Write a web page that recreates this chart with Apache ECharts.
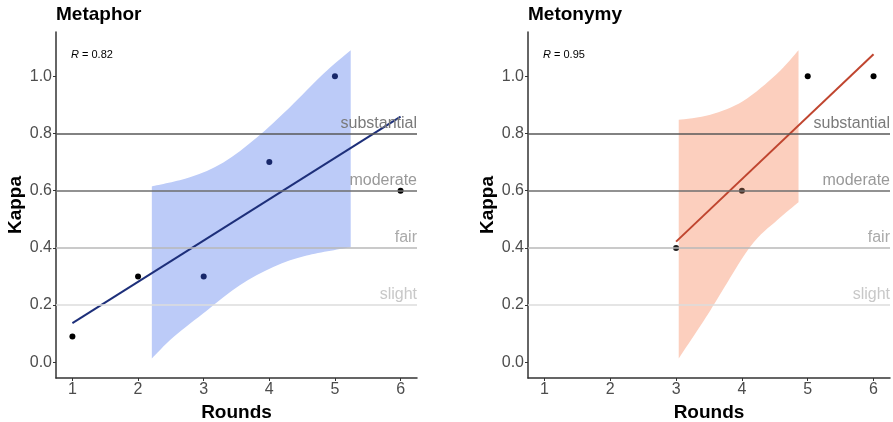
<!DOCTYPE html>
<html>
<head>
<meta charset="utf-8">
<script src="https://cdn.jsdelivr.net/npm/echarts@6/dist/echarts.min.js"></script>
<style>
html,body{margin:0;padding:0;background:#fff;}
#c{width:893px;height:422px;}
</style>
</head>
<body>
<div id="c"></div>
<script>
// ---- data ----
const xTicks = [1, 2, 3, 4, 5, 6];
const yTicks = [0, 0.2, 0.4, 0.6, 0.8, 1.0];
const panelTitles = ['Metaphor', 'Metonymy'];
const rValues = ['0.82', '0.95'];

const metaphorRounds = [1, 2, 3, 4, 5, 6];
const metaphorKappa = [0.09, 0.30, 0.30, 0.70, 1.00, 0.60];
const metaphorFit = [[1, 0.137], [6, 0.859]];
const metaphorBandUpper = [[2.21, 0.615], [2.79, 0.647], [3.30, 0.699], [3.81, 0.786], [4.31, 0.891], [4.82, 1.008], [5.24, 1.091]];
const metaphorBandLower = [[2.21, 0.013], [2.54, 0.088], [3.05, 0.181], [3.55, 0.269], [4.06, 0.333], [4.57, 0.373], [5.24, 0.402]];

const metonymyRounds = [3, 4, 5, 6];
const metonymyKappa = [0.40, 0.60, 1.00, 1.00];
const metonymyFit = [[3, 0.422], [6, 1.077]];
const metonymyBandUpper = [[3.04, 0.848], [3.52, 0.866], [4.02, 0.914], [4.53, 1.008], [4.86, 1.091]];
const metonymyBandLower = [[3.04, 0.013], [3.52, 0.181], [4.12, 0.402], [4.53, 0.496], [4.86, 0.560]];

const refLevels = [0.8, 0.6, 0.4, 0.2];
const refNames = ['substantial', 'moderate', 'fair', 'slight'];

// ---- styles ----
const FONT = '"Liberation Sans", Arial, sans-serif';
const refLineColors = ['#585858', '#6e6e6e', '#b8b8b8', '#dddddd'];
const refLabelColors = ['#7a7a7a', '#999999', '#aaaaaa', '#c8c8c8'];
const metaphorPointColors = ['#000000', '#000000', '#17276a', '#17276a', '#17276a', '#000000'];
const metonymyPointColors = ['#1e1e1e', '#4e3328', '#000000', '#000000'];

const chart = echarts.init(document.getElementById('c'), null, {renderer: 'canvas'});

const gridsPx = [{left: 56, top: 32, width: 361, height: 346}, {left: 528, top: 32, width: 362, height: 346}];

function xAxisCfg(i) {
  return {
    type: 'value', gridIndex: i, min: 0.75, max: 6.25,
    name: 'Rounds', nameLocation: 'middle', nameGap: 24,
    nameTextStyle: {fontFamily: FONT, fontSize: 19, fontWeight: 'bold', color: '#000'},
    axisLine: {show: true, onZero: false, lineStyle: {color: '#333', width: 1.5}},
    axisTick: {show: true, length: 3, customValues: xTicks, lineStyle: {color: '#333', width: 1}},
    axisLabel: {customValues: xTicks, margin: 4, fontFamily: FONT, fontSize: 16, color: '#4d4d4d'},
    splitLine: {show: false}
  };
}
function yAxisCfg(i) {
  return {
    type: 'value', gridIndex: i, min: -0.055, max: 1.155,
    name: 'Kappa', nameLocation: 'middle', nameGap: 31,
    nameTextStyle: {fontFamily: FONT, fontSize: 19, fontWeight: 'bold', color: '#000'},
    axisLine: {show: true, onZero: false, lineStyle: {color: '#333', width: 1.5}},
    axisTick: {show: true, length: 3, customValues: yTicks, lineStyle: {color: '#333', width: 1}},
    axisLabel: {customValues: yTicks, margin: 4, fontFamily: FONT, fontSize: 16, color: '#4d4d4d',
      formatter: v => Number(v).toFixed(1)},
    splitLine: {show: false}
  };
}

// smooth (Catmull-Rom) path through pixel points
function curvePath(px, moveFirst) {
  let d = (moveFirst ? 'M' : 'L') + px[0][0] + ' ' + px[0][1];
  for (let k = 0; k < px.length - 1; k++) {
    const p0 = px[Math.max(k - 1, 0)], p1 = px[k], p2 = px[k + 1], p3 = px[Math.min(k + 2, px.length - 1)];
    const c1 = [p1[0] + (p2[0] - p0[0]) / 6, p1[1] + (p2[1] - p0[1]) / 6];
    const c2 = [p2[0] - (p3[0] - p1[0]) / 6, p2[1] - (p3[1] - p1[1]) / 6];
    d += ' C' + c1[0] + ' ' + c1[1] + ' ' + c2[0] + ' ' + c2[1] + ' ' + p2[0] + ' ' + p2[1];
  }
  return d;
}

function bandSeries(i, upper, lower, color) {
  return {
    type: 'custom', xAxisIndex: i, yAxisIndex: i, z: 1, silent: true,
    data: [0],
    renderItem: function (params, api) {
      const up = upper.map(p => api.coord(p));
      const lo = lower.slice().reverse().map(p => api.coord(p));
      const d = curvePath(up, true) + ' ' + curvePath(lo, false) + ' Z';
      return {
        type: 'path',
        shape: {pathData: d},
        style: {fill: color}
      };
    }
  };
}

function refSeries(i) {
  return {
    type: 'line', xAxisIndex: i, yAxisIndex: i, z: 2, data: [], silent: true,
    markLine: {
      silent: true, symbol: ['none', 'none'], animation: false,
      data: refLevels.map((v, k) => ({
        yAxis: v, name: refNames[k],
        lineStyle: {color: refLineColors[k], width: 1.5, type: 'solid'},
        label: {show: true, position: 'insideEndTop', formatter: refNames[k], distance: [0, 2],
          fontFamily: FONT, fontSize: 16, color: refLabelColors[k]}
      }))
    }
  };
}

function fitSeries(i, data, color) {
  return {
    type: 'line', xAxisIndex: i, yAxisIndex: i, z: 3, data: data, symbol: 'none',
    lineStyle: {color: color, width: 2}, silent: true, animation: false
  };
}

function pointSeries(i, xs, ys, colors) {
  return {
    type: 'scatter', xAxisIndex: i, yAxisIndex: i, z: 4, symbolSize: 6, silent: true,
    data: xs.map((x, k) => ({value: [x, ys[k]], itemStyle: {color: colors[k], opacity: 1}}))
  };
}

const option = {
  animation: false,
  backgroundColor: '#ffffff',
  title: [
    {text: panelTitles[0], left: 56, top: 5, padding: 0, textStyle: {fontFamily: FONT, fontSize: 19, fontWeight: 'bold', color: '#000'}},
    {text: panelTitles[1], left: 528, top: 5, padding: 0, textStyle: {fontFamily: FONT, fontSize: 19, fontWeight: 'bold', color: '#000'}},
    {text: '{i|R} = ' + rValues[0], left: 71, top: 49, padding: 0,
      textStyle: {fontFamily: FONT, fontSize: 11, fontWeight: 'normal', color: '#000',
        rich: {i: {fontFamily: FONT, fontSize: 11, fontStyle: 'italic', color: '#000'}}}},
    {text: '{i|R} = ' + rValues[1], left: 543, top: 49, padding: 0,
      textStyle: {fontFamily: FONT, fontSize: 11, fontWeight: 'normal', color: '#000',
        rich: {i: {fontFamily: FONT, fontSize: 11, fontStyle: 'italic', color: '#000'}}}}
  ],
  grid: gridsPx.map(g => Object.assign({outerBoundsMode: 'none', containLabel: false}, g)),
  xAxis: [xAxisCfg(0), xAxisCfg(1)],
  yAxis: [yAxisCfg(0), yAxisCfg(1)],
  series: [
    bandSeries(0, metaphorBandUpper, metaphorBandLower, '#bccbf8'),
    refSeries(0),
    fitSeries(0, metaphorFit, '#1d2f7a'),
    pointSeries(0, metaphorRounds, metaphorKappa, metaphorPointColors),
    bandSeries(1, metonymyBandUpper, metonymyBandLower, '#fccfbe'),
    refSeries(1),
    fitSeries(1, metonymyFit, '#c0452f'),
    pointSeries(1, metonymyRounds, metonymyKappa, metonymyPointColors)
  ]
};
chart.setOption(option);
</script>
</body>
</html>
